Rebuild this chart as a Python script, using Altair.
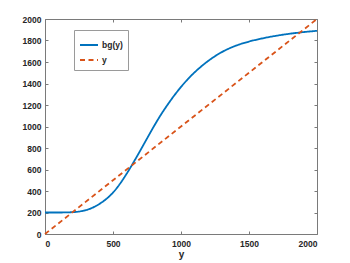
import altair as alt
import pandas as pd

# bg(y) curve
bg_x = [0, 100, 200, 250, 300, 350, 400, 450, 500, 550, 600, 650, 700, 750, 800,
        850, 900, 950, 1000, 1050, 1100, 1150, 1200, 1300, 1400, 1500, 1600, 1700,
        1800, 1900, 2000]
bg_y = [200, 200, 203, 209, 222, 245, 280, 325, 385, 465, 560, 665, 775, 888, 1000,
        1105, 1200, 1288, 1368, 1440, 1504, 1560, 1610, 1692, 1750, 1790, 1820, 1844,
        1863, 1878, 1890]
# identity line y
id_x = [0, 2000]
id_y = [0, 2000]

series = ["bg(y)", "y"]
colors = ["#0072BD", "#D95319"]
x_ticks = [0, 500, 1000, 1500, 2000]
y_ticks = [0, 200, 400, 600, 800, 1000, 1200, 1400, 1600, 1800, 2000]

W, H = 272, 215
FONT = "Liberation Sans"
AX = "#7a7a7a"
TXT = "#262626"

df_bg = pd.DataFrame({"x": bg_x, "v": bg_y, "series": series[0]})
df_id = pd.DataFrame({"x": id_x, "v": id_y, "series": series[1]})

xs = alt.Scale(domain=[0, 2000], nice=False, zero=False)
ys = alt.Scale(domain=[0, 2000], nice=False, zero=False)
cscale = alt.Scale(domain=series, range=colors)
dscale = alt.Scale(domain=series, range=[[1, 0], [5, 3.5]])

legend = alt.Legend(
    title=None, orient="none", legendX=29, legendY=11,
    fillColor="white", strokeColor="#9a9a9a", padding=5,
    symbolType="stroke", symbolSize=324, symbolStrokeWidth=2,
    labelFont=FONT, labelFontSize=8.5, labelFontWeight="bold", labelColor=TXT,
    rowPadding=-2, labelOffset=3,
)

main_x = alt.Axis(orient="bottom", values=x_ticks, format="d", ticks=False, domain=True,
                  domainColor=AX, labelFont=FONT, labelFontSize=8.5,
                  labelFontWeight="bold", labelColor=TXT, labelPadding=5,
                  title="y", titleFont=FONT, titleFontSize=10, titleFontWeight="bold",
                  titleColor=TXT, titlePadding=2, grid=False)
main_y = alt.Axis(orient="left", values=y_ticks, format="d", ticks=False, domain=True,
                  domainColor=AX, labelFont=FONT, labelFontSize=8.5,
                  labelFontWeight="bold", labelColor=TXT, labelPadding=4,
                  title=None, grid=False)

l1 = alt.Chart(df_bg).mark_line(strokeWidth=1.8, interpolate="monotone").encode(
    x=alt.X("x:Q", scale=xs, axis=main_x),
    y=alt.Y("v:Q", scale=ys, axis=main_y),
    color=alt.Color("series:N", scale=cscale, legend=legend),
    strokeDash=alt.StrokeDash("series:N", scale=dscale, legend=legend),
)

# inward ticks at bottom and left
l2 = alt.Chart(df_id).mark_line(strokeWidth=1.8).encode(
    x=alt.X("x:Q", scale=xs, axis=alt.Axis(orient="top", offset=-H, values=x_ticks,
            labels=False, domain=False, tickSize=3, tickColor=AX, title=None, grid=False)),
    y=alt.Y("v:Q", scale=ys, axis=alt.Axis(orient="right", offset=-W, values=y_ticks,
            labels=False, domain=False, tickSize=3, tickColor=AX, title=None, grid=False)),
    color=alt.Color("series:N", scale=cscale, legend=legend),
    strokeDash=alt.StrokeDash("series:N", scale=dscale, legend=legend),
)

# box top/right with inward ticks
l3 = alt.Chart(df_id).mark_line(opacity=0).encode(
    x=alt.X("x:Q", scale=xs, axis=alt.Axis(orient="bottom", offset=-H, values=x_ticks,
            labels=False, domain=True, domainColor=AX, tickSize=3, tickColor=AX,
            title=None, grid=False)),
    y=alt.Y("v:Q", scale=ys, axis=alt.Axis(orient="left", offset=-W, values=y_ticks,
            labels=False, domain=True, domainColor=AX, tickSize=3, tickColor=AX,
            title=None, grid=False)),
)

chart = alt.layer(l1, l2, l3).resolve_axis(x="independent", y="independent").properties(
    width=W, height=H,
    autosize=alt.AutoSizeParams(type="none"),
    padding={"left": 37, "top": 11, "right": 25, "bottom": 28},
).configure_view(stroke=None)

chart.save("out.html", embed_options={"renderer": "svg", "actions": False})
